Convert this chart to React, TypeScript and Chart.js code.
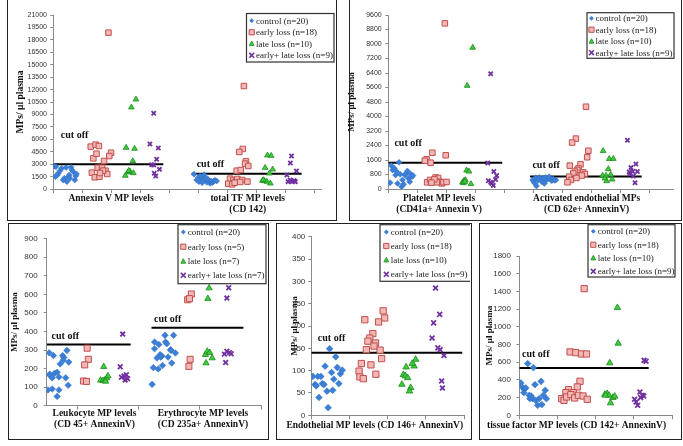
import React, { useEffect, useRef } from 'react';
import { Chart, registerables } from 'chart.js';

Chart.register(...registerables);

const SERIF = "'Liberation Serif', 'Times New Roman', serif";
const SANS = "'Liberation Sans', Arial, sans-serif";
const Y_TITLE = 'MPs/ µl plasma';
const CUT_TEXT = 'cut off';

const GROUPS_A = ['control (n=20)', 'early loss (n=18)', 'late loss (n=10)', 'early+ late loss (n=9)'];
const GROUPS_B = ['control (n=20)', 'early loss (n=5)', 'late loss (n=7)', 'early+ late loss (n=7)'];

// ---------- Panel 1: Annexin V / total TF ----------
const p1YRange = [0, 21000, 1500];
const p1XTicks = [0, 1, 2, 3, 4, 5, 6, 7, 8, 9];
const p1Categories = [['Annexin V MP levels'], ['total TF MP levels', '(CD 142)']];
const p1CategoryX = [1.99, 6.7];
const p1CutX = [[0, 3.79], [4.77, 8.56]];
const p1CutY = [3000, 1850];
const p1CutLabelX = [0.26, 4.94];
const p1CutLabelY = [6520, 3020];
const p1ControlX = [0.03, 0.09, 0.14, 0.07, 0.17, 0.23, 0.29, 0.34, 0.38, 0.44, 0.47, 0.52, 0.55, 0.61, 0.64, 0.69, 0.74, 0.77, 0.8, 0.57,
  4.85, 4.94, 5.02, 5.09, 5.15, 5.2, 5.24, 5.29, 5.34, 5.4, 5.44, 5.48, 5.53, 5.57, 5.63, 4.99, 5.13, 5.22, 5.31, 5.06];
const p1ControlY = [2780, 2700, 1690, 1490, 1890, 2210, 2490, 1090, 1290, 2580, 890, 1490, 1690, 2620, 2290, 2090, 1090, 1570, 1810, 1290,
  1770, 1090, 890, 1250, 1490, 1730, 1090, 800, 970, 680, 970, 760, 930, 1050, 970, 1330, 760, 1290, 1250, 1570];
const p1EarlyX = [1.9, 1.29, 1.46, 1.57, 1.38, 1.49, 1.75, 1.99, 1.93, 1.33, 1.43, 1.59, 1.53, 1.68, 1.8, 1.86, 1.71, 1.61,
  6.57, 6.53, 6.41, 6.64, 6.61, 6.72, 6.32, 6.46, 6.09, 6.21, 6.3, 6.34, 6.51, 6.69, 6.03, 6.17, 6.25, 6.44];
const p1EarlyY = [18870, 5110, 5350, 5190, 3700, 4260, 3380, 4380, 3980, 1970, 1410, 1490, 2570, 2570, 2210, 1810, 2210, 1930,
  12430, 4830, 4470, 3340, 3060, 2780, 2210, 2290, 1250, 1090, 970, 1210, 1090, 890, 640, 560, 760, 850];
const p1LateX = [2.85, 2.69, 2.51, 2.8, 2.74, 2.57, 2.64, 2.76, 2.48, 2.6,
  7.38, 7.51, 7.3, 7.56, 7.45, 7.21, 7.28, 7.36, 7.48, 7.24];
const p1LateY = [10820, 9860, 4990, 4870, 3380, 2010, 2130, 1930, 1610, 2210,
  4060, 4020, 2570, 2370, 1890, 1010, 970, 890, 680, 1090];
const p1BothX = [3.46, 3.33, 3.62, 3.56, 3.39, 3.46, 3.66, 3.48, 3.53,
  8.21, 8.17, 8.38, 8.05, 8.09, 8.23, 8.3, 8.34, 8.16];
const p1BothY = [9130, 5430, 4950, 3580, 2940, 2900, 2370, 1890, 1570,
  3980, 3140, 2170, 1690, 890, 890, 1010, 890, 1090];

// ---------- Panel 2: Platelet / Activated endothelial ----------
const p2YRange = [0, 9600, 800];
const p2XTicks = [0, 1, 2, 3, 4, 5, 6, 7, 8, 9];
const p2Categories = [['Platelet MP levels', '(CD41a+ Annexin V)'], ['Activated endothelial MPs', '(CD 62e+ AnnexinV)']];
const p2CategoryX = [1.75, 6.84];
const p2CutX = [[0, 3.93], [4.89, 8.74]];
const p2CutY = [1450, 690];
const p2CutLabelX = [0.21, 4.97];
const p2CutLabelY = [2520, 1290];
const p2ControlX = [0.06, 0.1, 0.15, 0.21, 0.25, 0.29, 0.32, 0.37, 0.41, 0.46, 0.49, 0.53, 0.57, 0.61, 0.66, 0.69, 0.74, 0.77, 0.82, 0.85,
  4.98, 5.02, 5.08, 5.11, 5.17, 5.21, 5.26, 5.3, 5.34, 5.38, 5.43, 5.46, 5.52, 5.55, 5.6, 5.64, 5.69, 5.74, 5.78, 5.06];
const p2ControlY = [350, 1290, 1050, 1140, 770, 960, 310, 1470, 810, 130, 500, 260, 770, 860, 990, 590, 400, 830, 680, 750,
  500, 400, 620, 170, 500, 640, 530, 400, 590, 310, 640, 500, 590, 680, 530, 460, 550, 480, 500, 310];
const p2EarlyX = [1.95, 1.52, 1.32, 1.46, 1.98, 1.26, 1.34, 1.44, 1.55, 1.63, 1.72, 1.78, 1.84, 1.9, 2.01, 1.67, 1.59, 1.49,
  6.82, 6.47, 6.34, 6.9, 6.86, 6.26, 6.63, 6.56, 6.52, 6.44, 6.38, 6.72, 6.78, 6.67, 6.24, 6.3, 6.18, 6.49];
const p2EarlyY = [9140, 2000, 1640, 1450, 1860, 1560, 370, 500, 400, 640, 610, 400, 310, 370, 390, 370, 530, 350,
  4540, 2780, 2560, 2110, 1750, 1290, 1360, 1140, 1050, 960, 860, 920, 830, 740, 680, 500, 370, 610];
const p2LateX = [2.91, 2.72, 2.7, 2.78, 2.56, 2.61, 2.66, 2.85, 2.59, 2.64,
  7.41, 7.62, 7.76, 7.59, 7.39, 7.51, 7.67, 7.72, 7.53, 7.47];
const p2LateY = [7800, 5700, 1030, 970, 370, 460, 500, 280, 330, 400,
  2100, 1660, 1670, 1100, 740, 740, 790, 530, 440, 590];
const p2BothX = [3.53, 3.43, 3.64, 3.74, 3.7, 3.45, 3.53, 3.57, 3.62,
  8.25, 8.37, 8.54, 8.31, 8.43, 8.59, 8.33, 8.45, 8.51];
const p2BothY = [6360, 1430, 960, 740, 530, 460, 370, 310, 200,
  2690, 1180, 1380, 940, 960, 960, 830, 720, 350];

// ---------- Panel 3: Leukocyte / Erythrocyte ----------
const p3YRange = [0, 900, 100];
const p3XTicks = [0.5, 1.5, 2.5, 3.5];
const p3Categories = [['Leukocyte MP levels', '(CD 45+ AnnexinV)'], ['Erythrocyte MP levels', '(CD 235a+ AnnexinV)']];
const p3CategoryX = [0.78, 2.55];
const p3CutX = [[0, 1.37], [1.71, 3.21]];
const p3CutY = [330, 420];
const p3CutLabelX = [0.08, 1.75];
const p3CutLabelY = [372, 467];
const p3ControlX = [0.04, 0.11, 0.26, 0.28, 0.33, 0.36, 0.22, 0.27, 0.05, 0.09, 0.13, 0.17, 0.2, 0.31, 0.35, 0.02, 0.09, 0.2, 0.17, 0.05,
  1.72, 1.74, 1.82, 1.76, 1.76, 1.83, 1.8, 1.85, 1.88, 1.89, 1.93, 1.94, 1.96, 1.98, 2.02, 2.03, 2.04, 2.07, 2.1, 1.86];
const p3ControlY = [285, 270, 270, 260, 298, 235, 225, 245, 165, 150, 175, 180, 155, 150, 110, 85, 90, 85, 50, 170,
  115, 205, 198, 343, 307, 330, 257, 275, 268, 217, 379, 343, 334, 262, 302, 298, 230, 379, 284, 262];
const p3EarlyX = [0.66, 0.68, 0.62, 0.6, 0.65, 2.3, 2.36, 2.34, 2.32, 2.33];
const p3EarlyY = [310, 250, 220, 133, 131, 571, 602, 250, 212, 577];
const p3LateX = [0.93, 0.88, 0.92, 0.95, 0.98, 1.0, 0.96, 2.65, 2.63, 2.59, 2.62, 2.66, 2.7, 2.6];
const p3LateY = [210, 137, 135, 138, 149, 160, 131, 634, 577, 275, 293, 286, 257, 230];
const p3BothX = [1.24, 1.2, 1.26, 1.3, 1.22, 1.28, 1.32, 2.97, 2.94, 2.9, 2.94, 2.92, 2.98, 3.01];
const p3BothY = [386, 210, 160, 167, 153, 138, 145, 636, 580, 278, 293, 233, 286, 280];

// ---------- Panel 4: Endothelial ----------
const p4YRange = [0, 400, 50];
const p4XTicks = [0, 1, 2, 3, 4];
const p4Categories = [['Endothelial MP levels (CD 146+ AnnexinV)']];
const p4CategoryX = [1.66];
const p4CutX = [[0, 3.95]];
const p4CutY = [140];
const p4CutLabelX = [0.17];
const p4CutLabelY = [172];
const p4ControlX = [0.04, 0.1, 0.13, 0.17, 0.25, 0.2, 0.29, 0.33, 0.36, 0.41, 0.44, 0.48, 0.53, 0.56, 0.59, 0.64, 0.68, 0.72, 0.76, 0.81];
const p4ControlY = [87, 69, 66, 87, 87, 40, 71, 69, 110, 54, 17, 149, 96, 56, 81, 131, 107, 71, 93, 101];
const p4EarlyX = [1.4, 1.88, 1.92, 1.76, 1.61, 1.53, 1.48, 1.68, 1.64, 1.44, 1.8, 1.31, 1.84, 1.56, 1.25, 1.27, 1.36, 1.69];
const p4EarlyY = [214, 234, 218, 209, 183, 173, 166, 162, 155, 147, 146, 116, 127, 113, 99, 86, 82, 92];
const p4LateX = [2.73, 2.48, 2.69, 2.64, 2.41, 2.46, 2.52, 2.37, 2.6, 2.57];
const p4LateY = [125, 108, 110, 116, 91, 88, 84, 69, 62, 54];
const p4BothX = [3.25, 3.36, 3.2, 3.16, 3.31, 3.37, 3.47, 3.41, 3.43];
const p4BothY = [285, 226, 207, 173, 151, 147, 134, 77, 61];

// ---------- Panel 5: tissue factor ----------
const p5YRange = [0, 1800, 200];
const p5XTicks = [0, 1, 2, 3, 4];
const p5Categories = [['tissue factor MP levels (CD 142+ AnnexinV)']];
const p5CategoryX = [1.5];
const p5CutX = [[0, 3.39]];
const p5CutY = [535];
const p5CutLabelX = [0.07];
const p5CutLabelY = [685];
const p5ControlX = [0.04, 0.09, 0.13, 0.17, 0.12, 0.22, 0.26, 0.28, 0.31, 0.35, 0.37, 0.41, 0.43, 0.48, 0.52, 0.57, 0.59, 0.63, 0.68, 0.71];
const p5ControlY = [365, 313, 294, 309, 256, 584, 226, 188, 218, 188, 539, 346, 169, 113, 188, 384, 121, 226, 282, 188];
const p5EarlyX = [1.7, 1.33, 1.48, 1.63, 1.76, 1.59, 1.52, 1.29, 1.22, 1.41, 1.11, 1.17, 1.24, 1.35, 1.45, 1.55, 1.67, 1.78];
const p5EarlyY = [1431, 716, 708, 693, 693, 384, 320, 290, 256, 256, 188, 169, 207, 234, 196, 226, 218, 181];
const p5LateX = [2.57, 2.59, 2.37, 2.24, 2.3, 2.35, 2.39, 2.45, 2.5, 2.26];
const p5LateY = [1216, 813, 591, 234, 245, 226, 139, 200, 215, 226];
const p5BothX = [3.27, 3.32, 3.16, 3.22, 3.18, 3.26, 3.02, 3.06, 3.1];
const p5BothY = [621, 610, 264, 226, 200, 218, 181, 151, 113];

// ---------- styling ----------
const MARKERS = [
  { pointStyle: 'rectRot', fill: '#3b7fd6', stroke: '#3370c4', width: 0.5, k: 1.0 },
  { pointStyle: 'rect', fill: '#f3b7b5', stroke: '#c0504d', width: 1, k: 1.3 },
  { pointStyle: 'triangle', fill: '#3ccc3c', stroke: '#1e8a1e', width: 0.8, k: 1.1 },
  { pointStyle: 'crossRot', fill: '#7030a0', stroke: '#7030a0', width: 1.8, k: 1.0 },
];

interface PanelCfg {
  canvas: number[]; // left, top, w, h (page px)
  plot: number[]; // left, top, right, bottom (page px)
  border: number[]; // left, top, w, h
  yRange: number[];
  xMax: number;
  xTicks: number[];
  xs: number[][];
  ys: number[][];
  groups: string[];
  cutX: number[][];
  cutY: number[];
  cutLabelX: number[];
  cutLabelY: number[];
  categories: string[][];
  categoryX: number[];
  catOffsets: number[];
  legendBox: number[];
  legendRows: number[];
  legendMarkerX: number;
  legendTextX: number;
  titlePad: number;
  titleSize: number;
  tickSize: number;
  tickPad: number;
  r: number;
}

const PANELS: PanelCfg[] = [
  {
    canvas: [8, 0, 327, 219], plot: [53.3, 15, 321.7, 189], border: [7, -1, 330, 222],
    yRange: p1YRange, xMax: 9.25, xTicks: p1XTicks,
    xs: [p1ControlX, p1EarlyX, p1LateX, p1BothX], ys: [p1ControlY, p1EarlyY, p1LateY, p1BothY],
    groups: GROUPS_A, cutX: p1CutX, cutY: p1CutY, cutLabelX: p1CutLabelX, cutLabelY: p1CutLabelY,
    categories: p1Categories, categoryX: p1CategoryX, catOffsets: [10, 21],
    legendBox: [246.5, 13.5, 334, 62], legendRows: [20.7, 32.3, 43.7, 55.3], legendMarkerX: 251.7, legendTextX: 256,
    titlePad: 7, titleSize: 9.5, tickSize: 7, tickPad: 3.3, r: 3,
  },
  {
    canvas: [343, 0, 337, 219], plot: [388.3, 15, 673.3, 189], border: [349, -1, 333, 222],
    yRange: p2YRange, xMax: 9.83, xTicks: p2XTicks,
    xs: [p2ControlX, p2EarlyX, p2LateX, p2BothX], ys: [p2ControlY, p2EarlyY, p2LateY, p2BothY],
    groups: GROUPS_A, cutX: p2CutX, cutY: p2CutY, cutLabelX: p2CutLabelX, cutLabelY: p2CutLabelY,
    categories: p2Categories, categoryX: p2CategoryX, catOffsets: [10, 21],
    legendBox: [587, 12.7, 674, 58.3], legendRows: [18.3, 29.7, 41.3, 52.7], legendMarkerX: 591.5, legendTextX: 595.5,
    titlePad: 3.6, titleSize: 9, tickSize: 7, tickPad: 3.6, r: 3,
  },
  {
    canvas: [9, 224, 258, 214], plot: [46.7, 238.7, 264.8, 405.7], border: [8, 223, 261, 217],
    yRange: p3YRange, xMax: 3.5, xTicks: p3XTicks,
    xs: [p3ControlX, p3EarlyX, p3LateX, p3BothX], ys: [p3ControlY, p3EarlyY, p3LateY, p3BothY],
    groups: GROUPS_B, cutX: p3CutX, cutY: p3CutY, cutLabelX: p3CutLabelX, cutLabelY: p3CutLabelY,
    categories: p3Categories, categoryX: p3CategoryX, catOffsets: [8, 18.6],
    legendBox: [178, 224.7, 266, 283.7], legendRows: [232, 246.7, 261.3, 275.3], legendMarkerX: 183.3, legendTextX: 187.7,
    titlePad: 0.6, titleSize: 9, tickSize: 8, tickPad: 6, r: 3.3,
  },
  {
    canvas: [277, 224, 193, 214], plot: [311.3, 236.7, 469.3, 415.3], border: [276, 223, 196, 217],
    yRange: p4YRange, xMax: 4, xTicks: p4XTicks,
    xs: [p4ControlX, p4EarlyX, p4LateX, p4BothX], ys: [p4ControlY, p4EarlyY, p4LateY, p4BothY],
    groups: GROUPS_A, cutX: p4CutX, cutY: p4CutY, cutLabelX: p4CutLabelX, cutLabelY: p4CutLabelY,
    categories: p4Categories, categoryX: p4CategoryX, catOffsets: [10.7],
    legendBox: [380, 224.7, 471, 281.3], legendRows: [232, 246, 260, 274.3], legendMarkerX: 386.3, legendTextX: 390.7,
    titlePad: 12.3, titleSize: 9, tickSize: 8, tickPad: 3, r: 3.4,
  },
  {
    canvas: [480, 224, 200, 214], plot: [519.3, 256, 672, 415.3], border: [479, 223, 203, 217],
    yRange: p5YRange, xMax: 4, xTicks: p5XTicks,
    xs: [p5ControlX, p5EarlyX, p5LateX, p5BothX], ys: [p5ControlY, p5EarlyY, p5LateY, p5BothY],
    groups: GROUPS_A, cutX: p5CutX, cutY: p5CutY, cutLabelX: p5CutLabelX, cutLabelY: p5CutLabelY,
    categories: p5Categories, categoryX: p5CategoryX, catOffsets: [10.7],
    legendBox: [588, 224.7, 675, 277], legendRows: [231.3, 244.7, 258, 271.3], legendMarkerX: 593.3, legendTextX: 597.7,
    titlePad: 3.9, titleSize: 9, tickSize: 8, tickPad: 5.3, r: 3.4,
  },
];

function drawMarker(ctx: CanvasRenderingContext2D, kind: number, x: number, y: number, s: number) {
  const m = MARKERS[kind];
  ctx.save();
  ctx.beginPath();
  ctx.fillStyle = m.fill;
  ctx.strokeStyle = m.stroke;
  if (kind === 0) {
    ctx.moveTo(x, y - s); ctx.lineTo(x + s, y); ctx.lineTo(x, y + s); ctx.lineTo(x - s, y); ctx.closePath();
    ctx.fill();
  } else if (kind === 1) {
    ctx.rect(x - s, y - s, 2 * s, 2 * s);
    ctx.fill(); ctx.lineWidth = 1; ctx.stroke();
  } else if (kind === 2) {
    ctx.moveTo(x, y - s * 1.1); ctx.lineTo(x + s, y + s * 0.8); ctx.lineTo(x - s, y + s * 0.8); ctx.closePath();
    ctx.fill(); ctx.lineWidth = 0.8; ctx.stroke();
  } else {
    ctx.moveTo(x - s, y - s); ctx.lineTo(x + s, y + s); ctx.moveTo(x + s, y - s); ctx.lineTo(x - s, y + s);
    ctx.lineWidth = 1.6; ctx.stroke();
  }
  ctx.restore();
}

function makeOverlay(cfg: PanelCfg) {
  return {
    id: 'overlay',
    afterDraw(chart: any) {
      const { ctx } = chart;
      const xs = chart.scales.x;
      const ys = chart.scales.y;
      const [cl, ct] = cfg.canvas;
      ctx.save();
      ctx.fillStyle = '#111';
      ctx.textBaseline = 'middle';
      // category labels
      ctx.textAlign = 'center';
      ctx.font = `bold 9.5px ${SERIF}`;
      cfg.categories.forEach((lines, i) => {
        const px = xs.getPixelForValue(cfg.categoryX[i]);
        lines.forEach((line, j) => ctx.fillText(line, px, ys.bottom + cfg.catOffsets[j]));
      });
      // cut-off labels
      ctx.textAlign = 'left';
      ctx.font = `bold 10px ${SERIF}`;
      cfg.cutLabelX.forEach((lx, i) => {
        ctx.fillText(CUT_TEXT, xs.getPixelForValue(lx), ys.getPixelForValue(cfg.cutLabelY[i]));
      });
      // legend
      const [bl, bt, br, bb] = cfg.legendBox;
      ctx.fillStyle = '#ffffff';
      ctx.fillRect(bl - cl, bt - ct, br - bl, bb - bt);
      ctx.strokeStyle = '#333';
      ctx.lineWidth = 1.2;
      ctx.strokeRect(bl - cl, bt - ct, br - bl, bb - bt);
      ctx.font = `9px ${SERIF}`;
      ctx.fillStyle = '#222';
      cfg.groups.forEach((g, i) => {
        const y = cfg.legendRows[i] - ct;
        drawMarker(ctx, i, cfg.legendMarkerX - cl, y, i === 1 ? 2.6 : 2.4);
        ctx.fillStyle = '#222';
        ctx.fillText(g, cfg.legendTextX - cl, y + 0.5);
      });
      ctx.restore();
    },
  };
}

function Panel({ cfg }: { cfg: PanelCfg }) {
  const ref = useRef<HTMLCanvasElement>(null);
  const [cl, ct, cw, ch] = cfg.canvas;
  const [pl, pt, pr, pb] = cfg.plot;
  useEffect(() => {
    const datasets: any[] = cfg.xs.map((xArr, i) => {
      const m = MARKERS[i];
      return {
        type: 'scatter',
        label: cfg.groups[i],
        data: xArr.map((x, j) => ({ x, y: cfg.ys[i][j] })),
        pointStyle: m.pointStyle,
        pointRadius: cfg.r * m.k,
        backgroundColor: m.fill,
        borderColor: m.stroke,
        borderWidth: m.width,
      };
    });
    cfg.cutX.forEach((seg, i) => {
      datasets.push({
        type: 'scatter',
        label: CUT_TEXT,
        data: seg.map((x) => ({ x, y: cfg.cutY[i] })),
        showLine: true,
        borderColor: '#000',
        borderWidth: 2,
        pointRadius: 0,
        fill: false,
      });
    });
    const axisColor = '#8a8a8a';
    const chart = new Chart(ref.current as HTMLCanvasElement, {
      type: 'scatter',
      data: { datasets },
      options: {
        animation: false,
        responsive: false,
        devicePixelRatio: 1,
        layout: { padding: { left: 0, top: pt - ct, right: cl + cw - pr, bottom: 0 } },
        plugins: { legend: { display: false }, tooltip: { enabled: false } },
        scales: {
          x: {
            type: 'linear',
            min: 0,
            max: cfg.xMax,
            afterBuildTicks: (s: any) => { s.ticks = cfg.xTicks.map((v) => ({ value: v })); },
            afterFit: (s: any) => { s.height = ct + ch - pb; },
            ticks: { display: false },
            grid: { display: true, drawOnChartArea: false, drawTicks: true, tickLength: 4, color: axisColor, tickColor: axisColor },
            border: { display: true, color: axisColor, width: 1 },
          },
          y: {
            type: 'linear',
            min: cfg.yRange[0],
            max: cfg.yRange[1],
            afterFit: (s: any) => { s.width = pl - cl; },
            ticks: {
              stepSize: cfg.yRange[2],
              autoSkip: false,
              padding: cfg.tickPad,
              color: '#333',
              font: { family: SANS, size: cfg.tickSize },
              callback: (v: any) => String(v),
            },
            grid: { display: true, drawOnChartArea: false, drawTicks: true, tickLength: 3, color: axisColor, tickColor: axisColor },
            border: { display: true, color: axisColor, width: 1 },
            title: {
              display: true,
              text: Y_TITLE,
              color: '#111',
              font: { family: SERIF, size: cfg.titleSize, weight: 'bold' },
              padding: { top: cfg.titlePad, bottom: 0 },
            },
          },
        },
      } as any,
      plugins: [makeOverlay(cfg)],
    });
    return () => chart.destroy();
  }, []);
  return (
    <canvas
      ref={ref}
      width={cw}
      height={ch}
      style={{ position: 'absolute', left: cl, top: ct, width: cw, height: ch }}
    />
  );
}

export default function App() {
  return (
    <div style={{ position: 'absolute', left: 0, top: 0, width: 683, height: 446, background: '#fff', overflow: 'hidden' }}>
      {PANELS.map((p, i) => (
        <div
          key={'b' + i}
          style={{
            position: 'absolute',
            left: p.border[0],
            top: p.border[1],
            width: p.border[2],
            height: p.border[3],
            border: '1px solid #222',
            boxSizing: 'border-box',
          }}
        />
      ))}
      {PANELS.map((p, i) => (
        <Panel key={'p' + i} cfg={p} />
      ))}
    </div>
  );
}
